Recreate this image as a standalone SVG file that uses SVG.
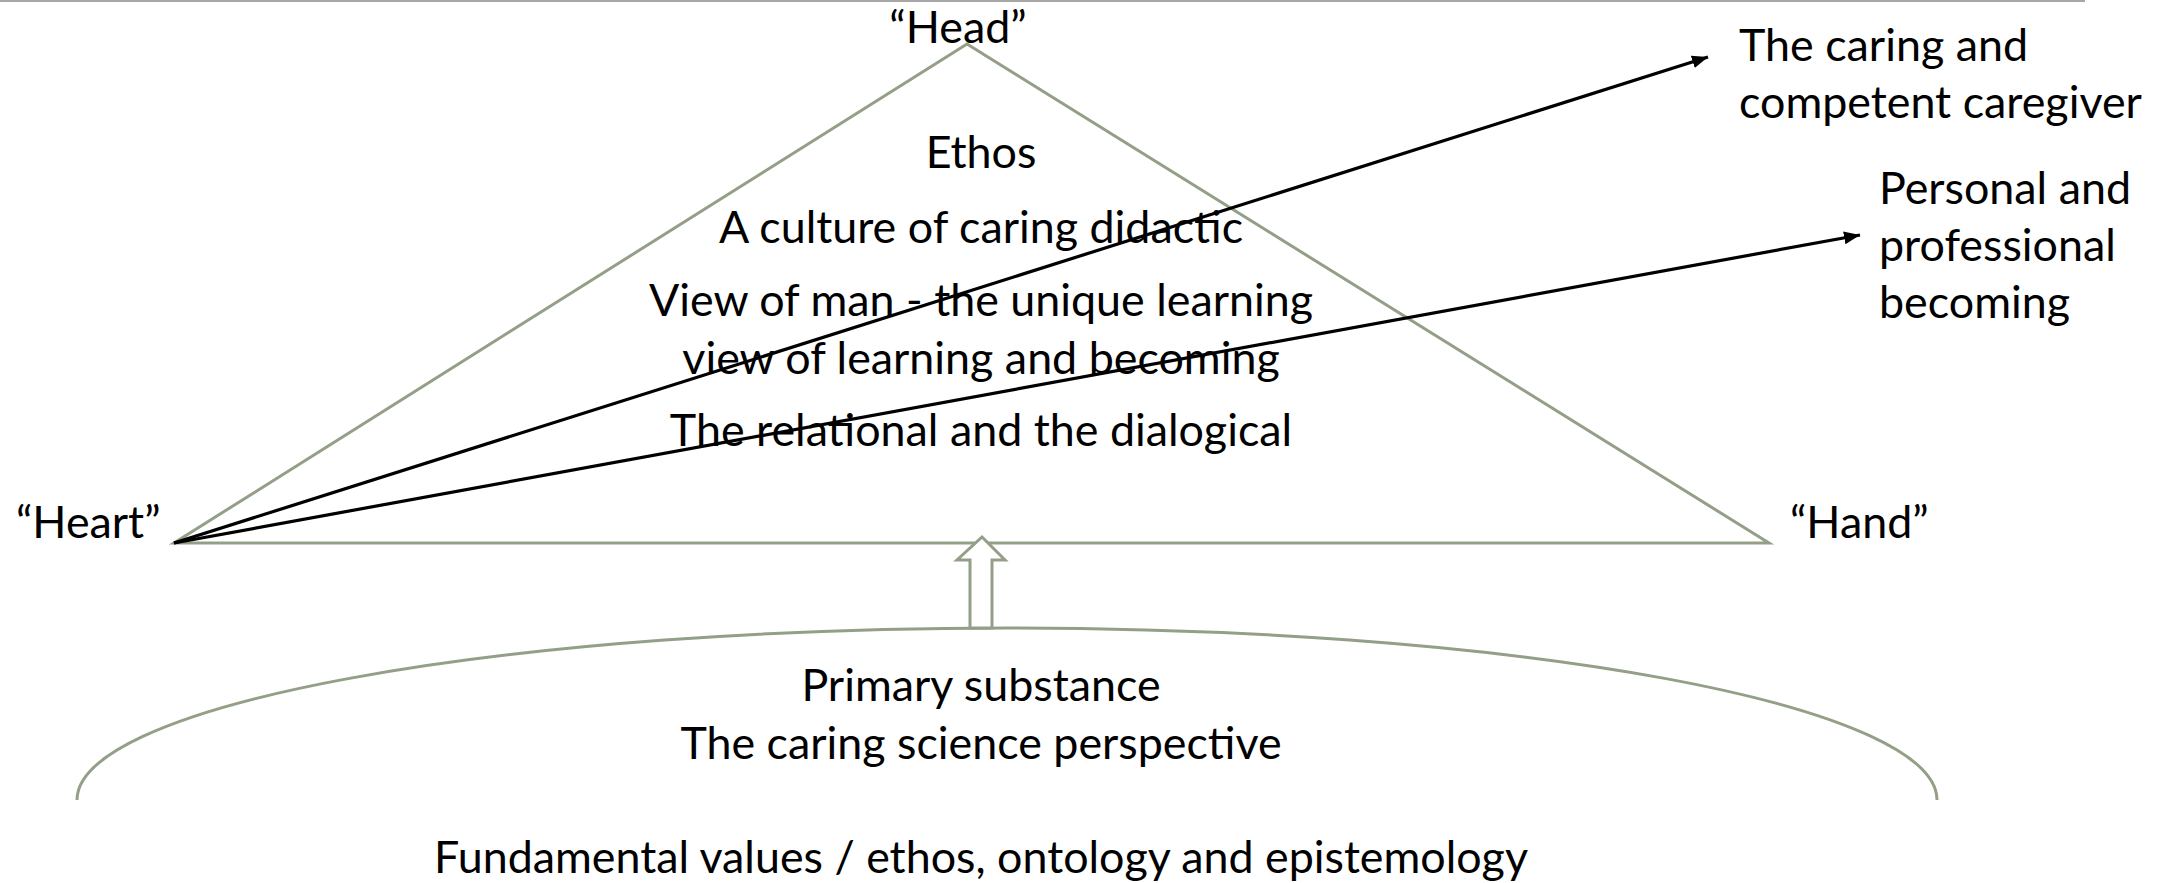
<svg xmlns="http://www.w3.org/2000/svg" width="2169" height="883" viewBox="0 0 2169 883">
  <style>
    .t { font-family: Lato, "Liberation Sans", sans-serif; font-size: 44.8px; fill: #000; }
    .c { text-anchor: middle; }
    .shape { fill: none; stroke: #939F86; stroke-width: 3; }
    .conn { fill: none; stroke: #000; stroke-width: 3.2; }
  </style>
  <defs>
    <marker id="ah" markerUnits="userSpaceOnUse" markerWidth="17" markerHeight="13" refX="16" refY="6.5" orient="auto">
      <path d="M0,0 L16,6.5 L0,13 z" fill="#000"/>
    </marker>
  </defs>
  <rect width="2169" height="883" fill="#fff"/>
  <line x1="0" y1="1" x2="2085" y2="1" stroke="#A6A6A6" stroke-width="2"/>

  <g id="triangle">
    <polygon class="shape" points="967,44 1769,543 174,543"/>
  </g>

  <g id="foundation">
    <path class="shape" d="M77,800 A930,172 0 0 1 1937,800"/>
  </g>

  <g id="up-arrow">
    <polygon points="982,537 1005,560 992,560 992,628 970,628 970,560 957,560" fill="#fff" stroke="#939F86" stroke-width="3" stroke-linejoin="miter"/>
  </g>

  <g id="head"><text class="t c" x="958" y="43">“Head”</text></g>
  <g id="heart"><text class="t" x="16" y="538">“Heart”</text></g>
  <g id="hand"><text class="t" x="1790" y="538">“Hand”</text></g>

  <g id="ethos">
    <text class="t c" x="981" y="168">Ethos</text>
    <text class="t c" x="981" y="243">A culture of caring didactic</text>
    <text class="t c" x="981" y="316">View of man - the unique learning</text>
    <text class="t c" x="981" y="374">view of learning and becoming</text>
    <text class="t c" x="981" y="446">The relational and the dialogical</text>
  </g>

  <g id="caregiver">
    <text class="t" x="1739" y="61">The caring and</text>
    <text class="t" x="1739" y="118">competent caregiver</text>
  </g>

  <g id="becoming">
    <text class="t" x="1879" y="204">Personal and</text>
    <text class="t" x="1879" y="261">professional</text>
    <text class="t" x="1879" y="318">becoming</text>
  </g>

  <g id="primary-substance">
    <text class="t c" x="981" y="701">Primary substance</text>
    <text class="t c" x="981" y="759">The caring science perspective</text>
  </g>

  <g id="fundamental">
    <text class="t c" x="981" y="873">Fundamental values / ethos, ontology and epistemology</text>
  </g>

  <g id="connectors">
    <line class="conn" x1="174" y1="543" x2="1708" y2="57" marker-end="url(#ah)"/>
    <line class="conn" x1="174" y1="543" x2="1860" y2="235" marker-end="url(#ah)"/>
  </g>
</svg>
